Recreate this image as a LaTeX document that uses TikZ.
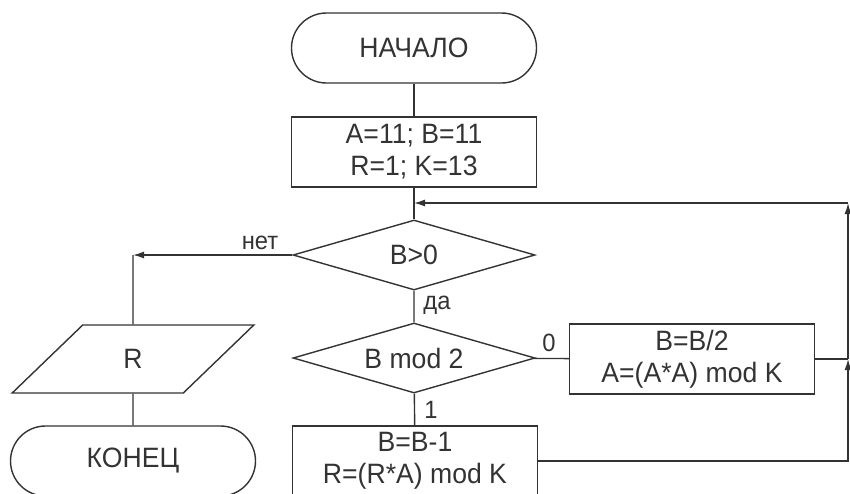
\documentclass[tikz,border=0pt]{standalone}
\usepackage{fontspec}
\setmainfont{Liberation Sans}[FakeStretch=0.95]
\usetikzlibrary{shapes.geometric,arrows.meta}
\definecolor{inkcolor}{HTML}{333333}

\begin{document}
\begin{tikzpicture}[x = 1pt, y = -1pt, line width = 1.4pt, color = inkcolor,
        every node/.style = {font = \fontsize{28}{32}\selectfont, align = center},
        terminal/.style = {draw, rectangle, rounded corners = 35pt, minimum width = 245pt, minimum height = 70pt},
        process/.style = {draw, rectangle, minimum width = 245pt, minimum height = 70pt},
        decision/.style = {draw, diamond, aspect = 3.5, inner sep = 0pt, minimum width = 242pt, minimum height = 70pt},
        io/.style = {draw, trapezium, trapezium left angle = 55, trapezium right angle = 125,
            trapezium stretches = true, minimum width = 243pt, minimum height = 68pt},
        label/.style = {font = \fontsize{25}{30}\selectfont},
        arr/.style = {-{Latex[length = 11pt, width = 7pt]}}]
        \useasboundingbox (0, 0) rectangle (850, 493);

        % Nodes
        \node [terminal] (start) at (414, 48) {НАЧАЛО};
        \node [process] (init) at (414, 152) {A=11; B=11\\R=1; K=13};
        \node [decision] (loop) at (414, 255) {B>0};
        \node [decision] (parity) at (414, 358) {B mod 2};
        \node [process] (even) at (692, 359) {B=B/2\\A=(A*A) mod K};
        \node [process] (odd) at (415, 461) {B=B-1\\R=(R*A) mod K};
        \node [io] (out) at (133, 359) {R};
        \node [terminal] (stop) at (133, 461) {КОНЕЦ};

        % Corners
        \coordinate (turn) at (133, 255);
        \coordinate (join) at (848, 359);
        \coordinate (top) at (848, 203);
        \coordinate (entry) at (414, 203);

        % Labels
        \node [label] (no) at (260, 243) {нет};
        \node [label] (yes) at (437, 305) {да};
        \node [label] (zero) at (549, 343) {0};
        \node [label] (one) at (431, 410) {1};

        % Lines
        \draw (start) -- (init) -- (loop);
        \draw (loop) -- (parity) -- (odd);
        \draw (parity) -- (even);
        \draw [arr] (loop.west) -- (turn);
        \draw (turn) -- (out) -- (stop);
        \draw [arr] (odd.east) -| (join);
        \draw (even.east) -- (join);
        \draw [arr] (join) -- (top);
        \draw [arr] (top) -- (entry);

    \end{tikzpicture}
\end{document}
